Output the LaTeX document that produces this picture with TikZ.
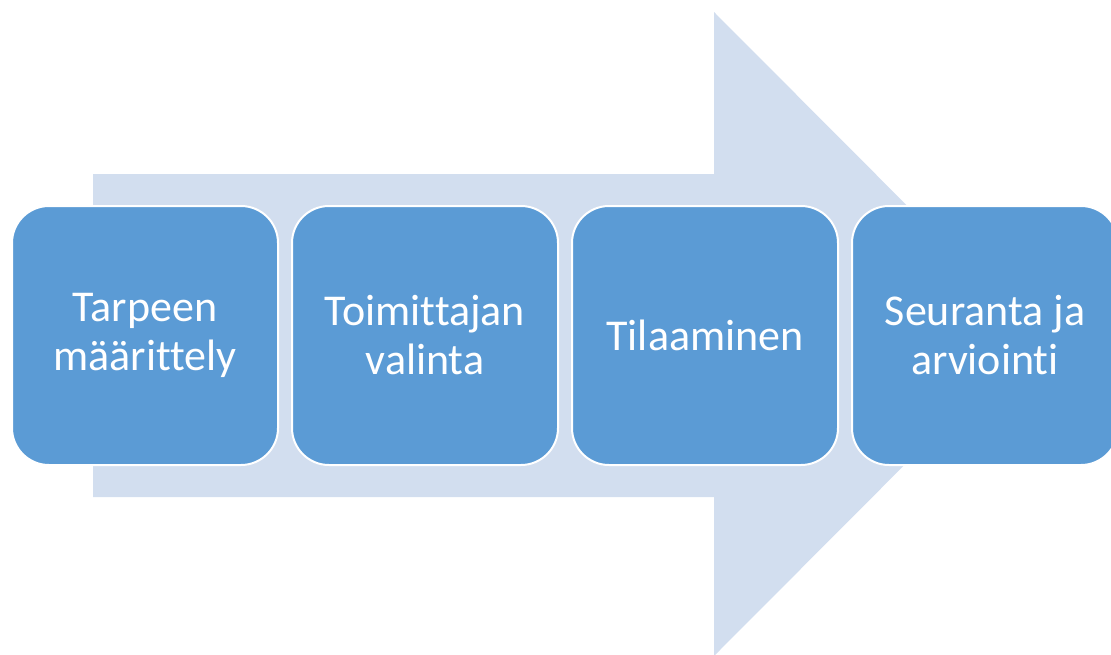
\documentclass[tikz,border=0pt]{standalone}
\usepackage{fontspec}
\setmainfont{Carlito}[Ligatures=NoCommon]
\usepackage{tikz}
\usetikzlibrary{positioning}

\definecolor{stepblue}{HTML}{5B9BD5}
\definecolor{arrowbg}{HTML}{D2DEEF}

\begin{document}
\begin{tikzpicture}[
  x=1pt, y=-1pt,
  stepbox/.style={rectangle, draw=white, line width=2pt, fill=stepblue, rounded corners=37pt,
    minimum width=266pt, minimum height=259pt, text=white, align=center,
    font=\fontsize{44}{49}\selectfont, inner sep=0pt},
  bigarrow/.style={fill=arrowbg, draw=none},
  node distance=12pt
]
\useasboundingbox (0,0) rectangle (1111,654);
\clip (0,0) rectangle (1111,654);

% Background arrow
\fill[bigarrow] (93,174) -- (714,174) -- (714,12) -- (1035,334)
  -- (714,656) -- (714,497) -- (93,497) -- cycle;

% Steps
\node[stepbox] (need) at (145,335.5) {Tarpeen\\määrittely};
\node[stepbox, right=of need] (supplier) {Toimittajan\\valinta};
\node[stepbox, right=of supplier] (order) {Tilaaminen};
\node[stepbox, right=of order] (follow) {Seuranta ja\\arviointi};
\end{tikzpicture}
\end{document}
